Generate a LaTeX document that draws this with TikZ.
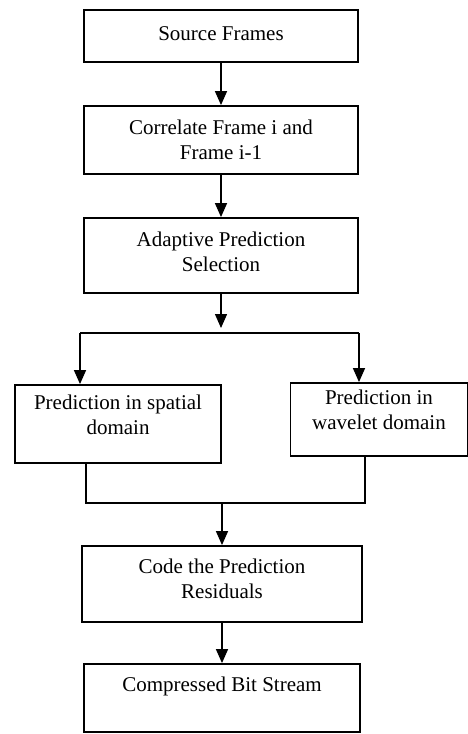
\documentclass[tikz,border=0pt]{standalone}
\usepackage{fontspec}
\setmainfont{Liberation Serif}
\usetikzlibrary{arrows.meta}
\begin{document}
\begin{tikzpicture}[x=1pt,y=-1pt,
  box/.style={draw, line width=1.8pt, align=center, inner sep=0pt,
    font=\fontsize{21}{25}\selectfont},
  link/.style={line width=1.4pt},
  arr/.style={link, -{Triangle[length=14pt,width=12pt]}}]
\useasboundingbox (0,0) rectangle (468,734);
\node[box, minimum width=274pt, minimum height=52pt, text depth=5pt] (b1) at (221,36) {Source Frames};
\node[box, minimum width=274pt, minimum height=68pt] (b2) at (221,140) {Correlate Frame i and\\Frame i-1};
\node[box, minimum width=274pt, minimum height=75pt, text depth=8pt] (b3) at (221,255.5) {Adaptive Prediction\\Selection};
\node[box, minimum width=206pt, minimum height=78pt, text depth=18pt] (b4) at (118,424) {Prediction in spatial\\domain};
\node[box, minimum width=177pt, minimum height=73pt, text depth=19pt] (b5) at (379,419.5) {Prediction in\\wavelet domain};
\node[box, minimum width=280pt, minimum height=76pt, text depth=10pt] (b6) at (222,584) {Code the Prediction\\Residuals};
\node[box, minimum width=276pt, minimum height=68pt, text depth=28pt] (b7) at (222,698) {Compressed Bit Stream};

\coordinate (split) at (221,333);
\coordinate (L) at (80,333);
\coordinate (R) at (359,333);
\coordinate (ML) at (86,503);
\coordinate (MR) at (365,503);
\coordinate (merge) at (222,503);

\draw[arr] (b1) -- (b2);
\draw[arr] (b2) -- (b3);
\draw[arr, shorten >=5pt] (b3) -- (split);
\draw[link] (L) -- (R);
\draw[arr] (L) -- (L |- b4.north);
\draw[arr] (R) -- (R |- b5.north);
\draw[link] (ML |- b4.south) -- (ML) -- (MR) -- (MR |- b5.south);
\draw[arr] (merge) -- (b6);
\draw[arr] (b6) -- (b7);
\end{tikzpicture}
\end{document}
